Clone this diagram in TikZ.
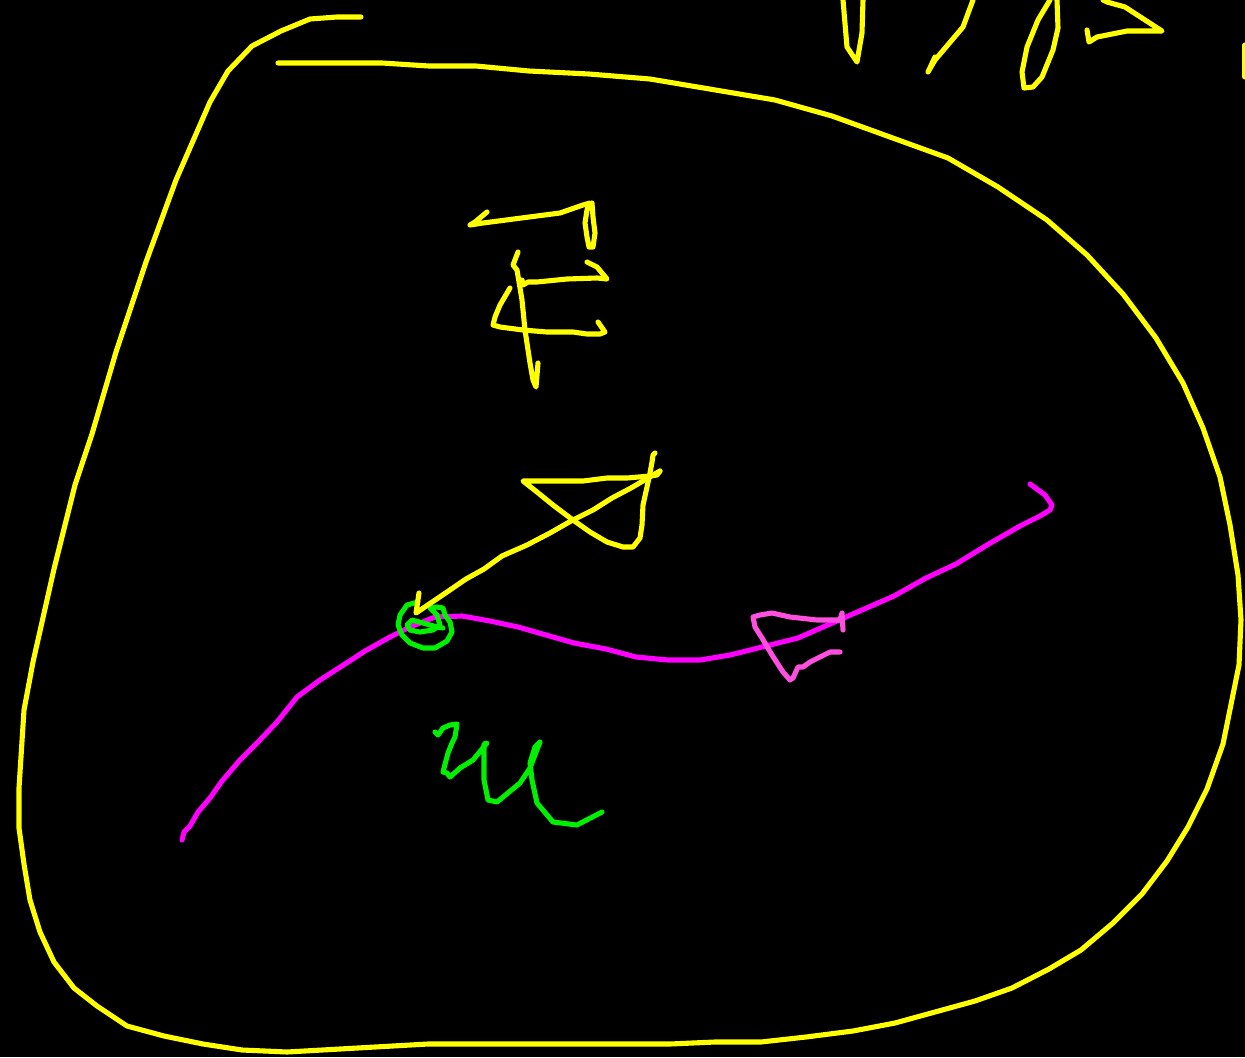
\documentclass[tikz,border=0pt]{standalone}
\usetikzlibrary{positioning}
\definecolor{penyellow}{HTML}{FFFF00}
\definecolor{penmagenta}{HTML}{FF00FF}
\definecolor{penpink}{HTML}{FF4FDF}
\definecolor{pengreen}{HTML}{00F000}
\tikzset{
  ink/.style={line width=1.45pt, line join=round, line cap=round},
  yel/.style={ink, draw=penyellow},
  mag/.style={ink, draw=penmagenta},
  pnk/.style={ink, draw=penpink},
  grn/.style={ink, draw=pengreen}
}
\begin{document}
\begin{tikzpicture}[x=0.01cm,y=-0.01cm]
  \fill[black] (0,0) rectangle (1245,1057);
  \useasboundingbox (0,0) rectangle (1245,1057);
  % points on the surface
  \coordinate (p) at (416,613);
  \coordinate (v) at (660,471);
  \coordinate (g0) at (182,840);
  \coordinate (g1) at (1030,484);
  % the region
  \draw[yel] (361,17) -- (337,17) -- (310,19) -- (281,31) -- (252,46) -- (228,71) -- (210,102)
    -- (176,180) -- (146,262) -- (131,307) -- (116,352) -- (92,434) -- (75,485) -- (54,569)
    -- (33,662) -- (24,710) -- (19,788) -- (19,828) -- (24,864) -- (30,900) -- (40,932)
    -- (54,962) -- (74,988) -- (97,1006) -- (127,1026) -- (164,1036) -- (203,1044)
    -- (242,1050) -- (287,1052) -- (428,1044) -- (670,1044) -- (715,1042) -- (761,1042)
    -- (806,1037) -- (853,1031) -- (895,1023) -- (975,1001) -- (1012,988) -- (1049,969)
    -- (1081,950) -- (1113,923) -- (1142,894) -- (1167,861) -- (1188,827) -- (1207,789)
    -- (1223,744) -- (1239,665) -- (1241,620) -- (1238,575) -- (1230,525) -- (1220,477)
    -- (1203,428) -- (1183,383) -- (1156,338) -- (1123,294) -- (1087,255) -- (1047,220)
    -- (998,187) -- (948,158) -- (832,116) -- (775,100) -- (650,79) -- (589,74) -- (529,71)
    -- (476,66) -- (429,66) -- (382,63) -- (278,63);
  % top right
  \draw[yel] (843,0) -- (847,47) -- (857,62) -- (862,33) -- (863,0);
  \draw[yel] (973,0) -- (963,27) -- (935,60) -- (928,72) -- (935,57);
  \draw[yel] (1050,0) -- (1038,20) -- (1027,47) -- (1022,72) -- (1024,88) -- (1033,87)
    -- (1042,77) -- (1053,50) -- (1058,28) -- (1057,0);
  \draw[yel] (1087,30) -- (1089,42) -- (1097,37) -- (1127,31) -- (1162,31) -- (1145,20)
    -- (1125,7) -- (1107,2) -- (1103,0);
  \draw[yel] (1245,45) -- (1245,77);
  % letter
  \draw[yel] (487,212) -- (475,222) -- (470,225) -- (483,223) -- (560,213) -- (583,205)
    -- (590,203) -- (587,210) -- (585,223) -- (587,237) -- (589,247) -- (593,247)
    -- (595,233) -- (593,217) -- (592,203);
  \draw[yel] (518,252) -- (513,265) -- (517,270) -- (522,300) -- (525,330) -- (530,363)
    -- (533,380) -- (536,387) -- (538,363);
  \draw[yel] (587,262) -- (597,267) -- (607,279) -- (597,278) -- (567,279) -- (537,282)
    -- (528,282) -- (523,285) -- (522,280);
  \draw[yel] (510,288) -- (500,305) -- (495,317) -- (493,325) -- (500,327) -- (523,330)
    -- (547,332) -- (573,332) -- (587,334) -- (600,334) -- (605,332) -- (598,322);
  % curve
  \draw[mag] (g0) -- (184,832) -- (190,826) -- (198,812) -- (210,798) -- (222,781)
    -- (240,760) -- (258,742) -- (277,722) -- (297,697) -- (320,680) -- (345,664)
    -- (365,651) -- (390,637) -- (410,627) -- (435,617) -- (462,616) -- (490,621)
    -- (518,627) -- (546,635) -- (574,643) -- (606,649) -- (636,657) -- (668,660)
    -- (700,660) -- (730,655) -- (766,646) -- (798,638) -- (830,624) -- (862,610)
    -- (894,596) -- (926,578) -- (956,564) -- (987,545) -- (1020,526) -- (1040,516)
    -- (1050,510) -- (1052,505) -- (1045,495) -- (g1);
  \draw[pnk] (840,652) -- (830,652) -- (820,657) -- (810,662) -- (803,667) -- (798,667)
    -- (793,678) -- (790,680) -- (783,672) -- (772,655) -- (762,638) -- (755,627)
    -- (753,617) -- (760,615) -- (772,613) -- (790,617) -- (817,620) -- (840,620)
    -- (842,613) -- (843,630);
  % point
  \draw[grn] (418,602) -- (407,605) -- (400,615) -- (398,625) -- (402,635) -- (410,643)
    -- (423,648) -- (435,648) -- (447,641) -- (452,632) -- (450,622) -- (445,615)
    -- (443,608) -- (437,607) -- (430,608) -- (437,615) -- (440,625) -- (433,630)
    -- (420,632) -- (410,630) -- (407,625) -- (412,620) -- (423,623) -- (437,627)
    -- (443,628);
  % tangent vector
  \draw[yel] (419,593) -- (p) -- (447,592) -- (466,579) -- (484,569) -- (502,556)
    -- (527,545) -- (550,533) -- (571,521) -- (593,510) -- (612,498) -- (631,488)
    -- (648,478) -- (v);
  \draw[yel] (v) -- (657,475) -- (650,476) -- (627,478) -- (607,478) -- (583,481)
    -- (523,481) -- (537,492) -- (553,505) -- (573,520) -- (590,532) -- (607,542)
    -- (623,547) -- (633,547) -- (640,538) -- (642,525) -- (643,505) -- (647,487)
    -- (650,473) -- (652,462) -- (653,455) -- (655,453);
  \draw[grn] (435,732) -- (438,735) -- (443,728) -- (450,725) -- (457,724) -- (455,737)
    -- (452,743) -- (448,753) -- (443,772) -- (447,773) -- (450,777) -- (460,768)
    -- (473,760) -- (487,743) -- (484,744) -- (484,780) -- (488,800) -- (497,802)
    -- (520,783) -- (530,768) -- (538,747) -- (540,742) -- (535,747) -- (530,763)
    -- (532,780) -- (537,803) -- (553,822) -- (577,825) -- (602,812);
\end{tikzpicture}
\end{document}
